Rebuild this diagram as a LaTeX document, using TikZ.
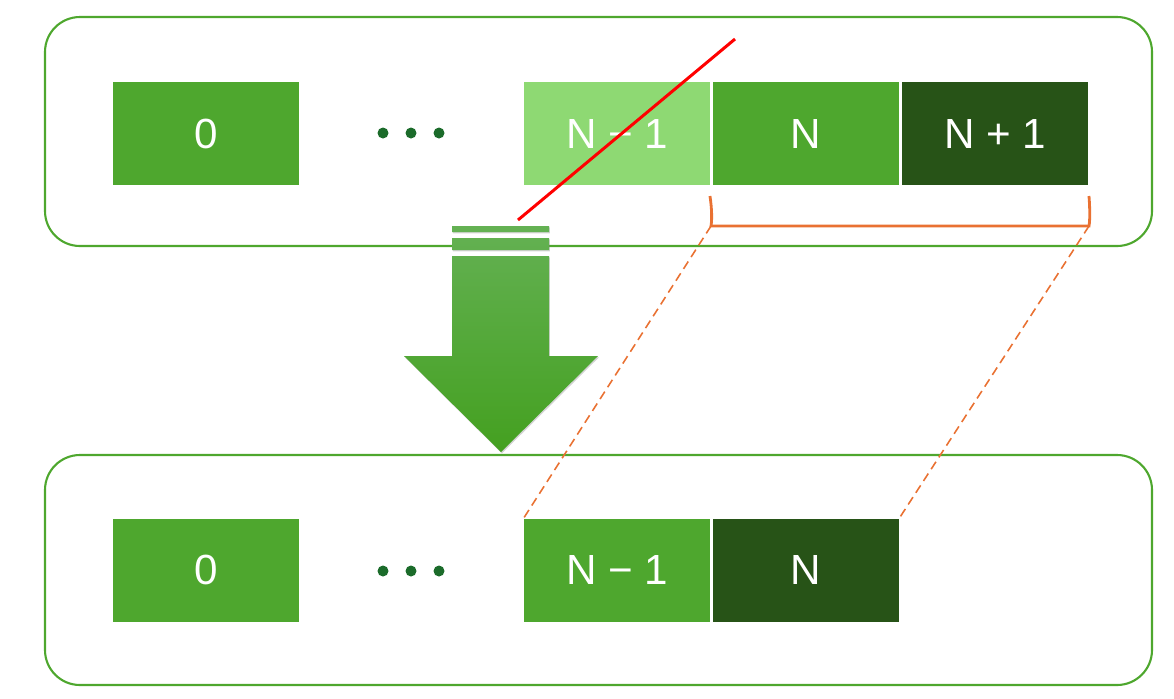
\documentclass[tikz,border=0pt]{standalone}
\usepackage{fontspec}
\setmainfont{Liberation Sans}
\usetikzlibrary{shadows}
\definecolor{gmid}{HTML}{4EA72E}
\definecolor{glight}{HTML}{8ED973}
\definecolor{gdark}{HTML}{275317}
\definecolor{gdot}{HTML}{1B6B2A}
\definecolor{orng}{HTML}{E97132}
\definecolor{arrtop}{HTML}{64B153}
\definecolor{arrbot}{HTML}{44A020}
\tikzset{
  panel/.style={draw=gmid, line width=1.2pt, rounded corners=0.7cm},
  cell/.style={minimum width=3.72cm, minimum height=2.06cm, inner sep=0pt, text=white,
    font=\fontsize{24}{28}\selectfont},
  dotmark/.style={fill=gdot, draw=none},
  brace/.style={draw=orng, line width=1.6pt},
  link/.style={draw=orng, line width=0.9pt, dash pattern=on 5pt off 3pt},
  strike/.style={draw=red, line width=1.7pt},
  arrowbody/.style={top color=arrtop, bottom color=arrbot, draw=none,
    drop shadow={opacity=0.35, shadow xshift=0.5pt, shadow yshift=-0.8pt, fill=gray}}
}
\begin{document}
\begin{tikzpicture}[x=0.02cm, y=-0.02cm]
\useasboundingbox (0,0) rectangle (1174,698);
% panels
\draw[panel] (45,17) rectangle (1152,246);
\draw[panel] (45,455) rectangle (1152,685);
% top row
\node[cell, fill=gmid] (t0) at (206,133.5) {0};
\node[cell, fill=glight] (tn1) at (617,133.5) {N − 1};
\node[cell, fill=gmid] (tn) at (806,133.5) {N};
\node[cell, fill=gdark] (tnp) at (995,133.5) {N + 1};
\fill[dotmark] (383,133) circle (5.5) (411,133) circle (5.5) (439,133) circle (5.5);
% bottom row
\node[cell, fill=gmid] (b0) at (206,570) {0};
\node[cell, fill=gmid] (bn1) at (617,570) {N − 1};
\node[cell, fill=gdark] (bn) at (806,570) {N};
\fill[dotmark] (383,571) circle (5.5) (411,571) circle (5.5) (439,571) circle (5.5);
% brace
\coordinate (bl) at (711,226);
\coordinate (br) at (1089,226);
\draw[brace] (710,196) .. controls (712,210) and (712,220) .. (bl) -- (br) .. controls (1090,220) and (1090,210) .. (1089,196);
% dashed links
\draw[link] (bl) -- (bn1.north west);
\draw[link] (br) -- (bn.north east);
% down arrow (one shaded path)
\path[arrowbody] (452,226) rectangle (549,232)
  (452,238) rectangle (549,250)
  (452,256) -- (549,256) -- (549,356) -- (598,356) -- (501,452) -- (404,356) -- (452,356) -- cycle;
% red strike line
\coordinate (rs) at (518,220);
\coordinate (re) at (735,39);
\draw[strike] (rs) -- (re);
\end{tikzpicture}
\end{document}
